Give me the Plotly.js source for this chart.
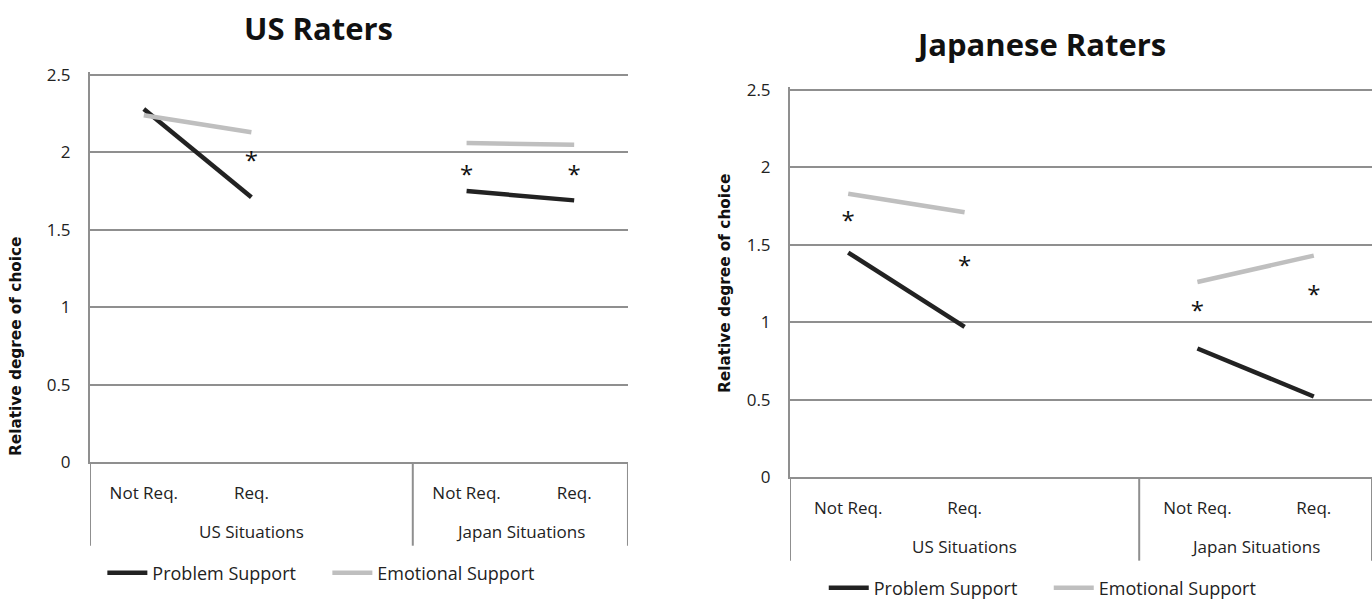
<!DOCTYPE html>
<html><head><meta charset="utf-8">
<script src="https://cdn.plot.ly/plotly-3.0.1.min.js"></script>
<style>body{margin:0;background:#fff}#chart{width:1372px;height:599px}</style>
</head><body><div id="chart"></div>
<script>
// ---- data ----
const groups = ["US Situations","US Situations","US Situations","Japan Situations","Japan Situations"];
const conditions = ["Not Req.","Req.","","Not Req.","Req."];
const usProblem   = [2.28, 1.71, null, 1.75, 1.69];
const usEmotional = [2.24, 2.13, null, 2.06, 2.05];
const jpProblem   = [1.45, 0.97, null, 0.83, 0.52];
const jpEmotional = [1.83, 1.71, null, 1.26, 1.43];
const usStars = [null, 1.93, null, 1.84, 1.84];
const jpStars = [1.64, 1.35, null, 1.06, 1.16];
const seriesNames = ["Problem Support", "Emotional Support"];
const panelTitles = ["US Raters", "Japanese Raters"];
const yTitle = "Relative degree of choice";
const yTicks = [0, 0.5, 1, 1.5, 2, 2.5];

// ---- derived category keys ----
const keys = groups.map((g, i) => g + " | " + (conditions[i] || "gap"));
const groupNames = [...new Set(groups)];
const groupCenters = groupNames.map(g => {
  const idx = groups.map((v, i) => v === g ? i : -1).filter(i => i >= 0);
  return (idx[0] + idx[idx.length - 1]) / 2;
});
const boundaries = [-0.5];
groups.forEach((g, i) => { if (i > 0 && g !== groups[i - 1]) boundaries.push(i - 0.5); });
boundaries.push(groups.length - 0.5);

// ---- style ----
const darkC = "#222222", lightC = "#bfbfbf", gridC = "#8f8f8f";
const FONT = "Open Sans, sans-serif";
const tickFont = {family: FONT, size: 17, color: "#222"};

function line(y, name, color, xa, ya, legend) {
  return {type: "scatter", mode: "lines", x: keys, y: y, name: name,
    line: {color: color, width: 4.5}, xaxis: xa, yaxis: ya, legend: legend,
    showlegend: true, connectgaps: false, hoverinfo: "y"};
}
function stars(y, xa, ya) {
  return {type: "scatter", mode: "text", x: keys, y: y,
    text: y.map(v => v === null ? "" : "*"), textposition: "middle center",
    textfont: {family: FONT, size: 24, color: "#111"},
    xaxis: xa, yaxis: ya, showlegend: false, hoverinfo: "skip"};
}

const data = [
  line(usProblem, seriesNames[0], darkC, "x", "y", "legend"),
  line(usEmotional, seriesNames[1], lightC, "x", "y", "legend"),
  stars(usStars, "x", "y"),
  line(jpProblem, seriesNames[0], darkC, "x2", "y2", "legend2"),
  line(jpEmotional, seriesNames[1], lightC, "x2", "y2", "legend2"),
  stars(jpStars, "x2", "y2")
];

function xax(domain, anchor) {
  return {type: "category", categoryorder: "array", categoryarray: keys,
    domain: domain, anchor: anchor, range: [-0.5, keys.length - 0.5],
    tickvals: keys, ticktext: conditions,
    showgrid: false, showline: true, linecolor: gridC, linewidth: 2,
    ticks: "", tickfont: tickFont, ticklabelstandoff: 15, fixedrange: true};
}
function yax(domain, anchor) {
  return {domain: domain, anchor: anchor, range: [0, 2.52], tickvals: yTicks,
    ticktext: yTicks.map(String),
    showgrid: true, gridcolor: gridC, gridwidth: 2,
    zeroline: false, showline: true, linecolor: gridC, linewidth: 2,
    ticks: "", ticklabelstandoff: 14, tickfont: tickFont, fixedrange: true};
}
const legFont = {family: FONT, size: 18, color: "#222"};

// group labels and dividers below each category axis
const annotations = [];
const shapes = [];
[["x", "y"], ["x2", "y2"]].forEach(([xa, ya]) => {
  groupNames.forEach((g, k) => annotations.push({
    text: g, xref: xa, yref: ya + " domain", x: groupCenters[k], y: -0.178,
    xanchor: "center", yanchor: "middle", showarrow: false, font: tickFont}));
  boundaries.forEach(b => shapes.push({
    type: "line", xref: xa, yref: ya + " domain", x0: b, x1: b, y0: 0, y1: -0.2145,
    line: {color: gridC, width: 2}, layer: "below"}));
});

annotations.push(
  {text: "<b>" + panelTitles[0] + "</b>", xref: "paper", yref: "paper", xanchor: "center", yanchor: "middle",
   x: 318/1372, y: 1 - 28/599, showarrow: false, font: {family: FONT, size: 31, color: "#111"}},
  {text: "<b>" + panelTitles[1] + "</b>", xref: "paper", yref: "paper", xanchor: "center", yanchor: "middle",
   x: 1040/1372, y: 1 - 44/599, showarrow: false, font: {family: FONT, size: 31, color: "#111"}},
  {text: "<b>" + yTitle + "</b>", xref: "paper", yref: "paper", xanchor: "center", yanchor: "middle",
   x: 16/1372, y: 1 - 347/599, textangle: -90, showarrow: false,
   font: {family: "DejaVu Sans, sans-serif", size: 15.3, color: "#111"}},
  {text: "<b>" + yTitle + "</b>", xref: "paper", yref: "paper", xanchor: "center", yanchor: "middle",
   x: 725/1372, y: 1 - 284/599, textangle: -90, showarrow: false,
   font: {family: "DejaVu Sans, sans-serif", size: 15.3, color: "#111"}}
);

const layout = {
  width: 1372, height: 599, margin: {l: 0, r: 0, t: 0, b: 0, autoexpand: false},
  paper_bgcolor: "#fff", plot_bgcolor: "#fff", showlegend: true,
  xaxis: xax([0.0656, 0.4577], "y"),
  yaxis: yax([0.2287, 0.8800], "x"),
  xaxis2: xax([0.5758, 1.0], "y2"),
  yaxis2: yax([0.2037, 0.8549], "x2"),
  legend: {orientation: "h", xref: "container", yref: "container", x: 0.2386, xanchor: "center",
    y: 1 - 573/599, yanchor: "middle", font: legFont, itemwidth: 40,
    entrywidth: 170, entrywidthmode: "pixels"},
  legend2: {orientation: "h", xref: "container", yref: "container", x: 0.7644, xanchor: "center",
    y: 1 - 588/599, yanchor: "middle", font: legFont, itemwidth: 40,
    entrywidth: 170, entrywidthmode: "pixels"},
  annotations: annotations,
  shapes: shapes
};
Plotly.newPlot("chart", data, layout, {displayModeBar: false, staticPlot: true});
</script></body></html>
